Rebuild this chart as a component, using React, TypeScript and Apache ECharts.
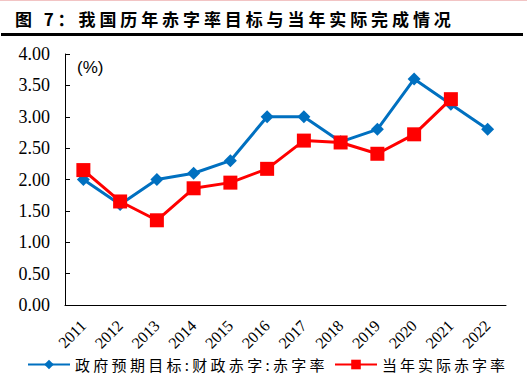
import React, { useEffect, useRef } from "react";
import * as echarts from "echarts";

const categories = ["2011", "2012", "2013", "2014", "2015", "2016", "2017", "2018", "2019", "2020", "2021", "2022"];
const targetRate = [2.0, 1.6, 2.0, 2.1, 2.3, 3.0, 3.0, 2.6, 2.8, 3.6, 3.2, 2.8];
const actualRate = [2.15, 1.65, 1.35, 1.86, 1.95, 2.17, 2.62, 2.59, 2.41, 2.72, 3.28, null];
const seriesNames = ["政府预期目标:财政赤字:赤字率", "当年实际赤字率"];
const titleText = "图 7：我国历年赤字率目标与当年实际完成情况";

const serif = "'Liberation Serif', 'Times New Roman', serif";
const cjk = "'Noto Sans CJK SC', sans-serif";

const spacingByText: Record<string, string> = {
  [titleText]: "3.9px",
  [seriesNames[0]]: "3.3px",
  [seriesNames[1]]: "3px",
};

export default function App() {
  const ref = useRef<HTMLDivElement>(null);
  useEffect(() => {
    if (!ref.current) return;
    const el = ref.current;
    const chart = echarts.init(el, null, { renderer: "svg" });
    chart.setOption({
      animation: false,
      backgroundColor: "#ffffff",
      grid: { left: 65, right: 21, top: 54, bottom: 87, containLabel: false },
      graphic: [
        { type: "rect", shape: { x: 0, y: 0, width: 527, height: 1 }, style: { fill: "#f2c4c4" } },
        {
          type: "text",
          x: 15,
          y: 18,
          style: {
            text: titleText,
            font: `bold 17px ${cjk}`,
            fill: "#000",
            verticalAlign: "middle",
          },
        },
        { type: "rect", shape: { x: 1, y: 33, width: 522, height: 3 }, style: { fill: "#000" } },
        {
          type: "text",
          x: 77,
          y: 67,
          style: { text: "(%)", font: `17px 'Liberation Sans', Arial, sans-serif`, fill: "#000", verticalAlign: "middle" },
        },
      ],
      legend: [
        {
          left: 22,
          bottom: 15,
          itemWidth: 42,
          itemHeight: 12,
          textStyle: { fontFamily: cjk, fontSize: 15, color: "#000" },
          data: [seriesNames[0]],
        },
        {
          left: 329,
          bottom: 15,
          itemWidth: 42,
          itemHeight: 12,
          textStyle: { fontFamily: cjk, fontSize: 15, color: "#000" },
          data: [seriesNames[1]],
        },
      ],
      xAxis: {
        type: "category",
        data: categories,
        boundaryGap: true,
        axisLine: { lineStyle: { color: "#000", width: 1 } },
        axisTick: { inside: true, length: 5, lineStyle: { color: "#000" } },
        axisLabel: {
          rotate: 45,
          fontFamily: serif,
          fontSize: 16,
          color: "#000",
          margin: 18,
          interval: 0,
        },
        splitLine: { show: false },
      },
      yAxis: {
        type: "value",
        min: 0,
        max: 4,
        interval: 0.5,
        axisLine: { show: true, lineStyle: { color: "#000", width: 1 } },
        axisTick: { show: true, inside: true, length: 5, lineStyle: { color: "#000" } },
        axisLabel: {
          formatter: (v: number) => v.toFixed(2),
          fontFamily: serif,
          fontSize: 18,
          color: "#000",
          margin: 15,
        },
        splitLine: { show: false },
      },
      series: [
        {
          name: seriesNames[0],
          type: "line",
          data: targetRate,
          color: "#0070C0",
          symbol: "diamond",
          symbolSize: 13,
          lineStyle: { width: 3, color: "#0070C0" },
          itemStyle: { color: "#0070C0" },
          z: 2,
        },
        {
          name: seriesNames[1],
          type: "line",
          data: actualRate,
          color: "#FF0000",
          symbol: "rect",
          symbolSize: 14,
          lineStyle: { width: 3, color: "#FF0000" },
          itemStyle: { color: "#FF0000" },
          z: 3,
        },
      ],
    });
    const applySpacing = () => {
      el.querySelectorAll("text").forEach((t) => {
        const s = spacingByText[(t.textContent || "").trim()];
        if (s) (t as SVGTextElement).style.letterSpacing = s;
      });
    };
    applySpacing();
    chart.on("finished", applySpacing);
    const timer = setTimeout(applySpacing, 50);
    return () => {
      clearTimeout(timer);
      chart.dispose();
    };
  }, []);
  return <div ref={ref} style={{ width: 527, height: 392, position: "absolute", left: 0, top: 0 }} />;
}
